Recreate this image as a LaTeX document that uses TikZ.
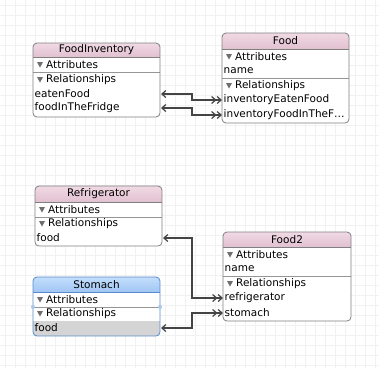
\documentclass[tikz,border=0pt]{standalone}
\usepackage{fontspec}
\setmainfont{DejaVu Sans}
\usetikzlibrary{arrows.meta}
\definecolor{hdrpinkT}{RGB}{240,218,228}
\definecolor{hdrpinkB}{RGB}{226,192,207}
\definecolor{hdrblueT}{RGB}{196,222,252}
\definecolor{hdrblueB}{RGB}{160,198,244}
\definecolor{bordergray}{RGB}{128,128,128}
\definecolor{bordblue}{RGB}{88,138,204}
\definecolor{sepgray}{RGB}{150,150,150}
\definecolor{selgray}{RGB}{212,212,212}
\definecolor{gridc}{RGB}{241,241,241}
\definecolor{linkc}{RGB}{68,68,68}
\definecolor{trigray}{RGB}{110,110,110}
\definecolor{handleblue}{RGB}{170,200,235}
\tikzset{
  txt/.style={font=\fontsize{10.5}{12}\selectfont, inner sep=0pt, anchor=west},
  hdr/.style={font=\fontsize{10.5}{12}\selectfont, inner sep=0pt},
  tri/.style={fill=trigray},
  sep/.style={draw=sepgray, line width=0.6pt},
  link/.style={draw=linkc, line width=1.3pt,
    {Straight Barb[length=4pt,width=7pt,line width=1.2pt]}-{Straight Barb[length=4pt,width=7pt,line width=1.2pt] Straight Barb[length=4pt,width=7pt,line width=1.2pt]}},
}
\newcommand\entframe[7]{% l r t hb b topcol botcol
  \begin{scope}
    \clip[rounded corners=4pt] (#1,#3) rectangle (#2,#5);
    \fill[white] (#1,#3) rectangle (#2,#5);
    \shade[top color=#6, bottom color=#7] (#1,#3) rectangle (#2,#4);
  \end{scope}
}
\newcommand\entborder[6]{% l r t hb b border
  \draw[#6, line width=0.7pt] (#1,#4) -- (#2,#4);
  \draw[#6, line width=0.8pt, rounded corners=4pt] (#1,#3) rectangle (#2,#5);
}
\newcommand\tria[2]{% x y
  \fill[tri] (#1+3,#2-3) -- (#1+9,#2-3) -- (#1+6,#2+2.5) -- cycle;
}
\begin{document}
\begin{tikzpicture}[x=1pt,y=-1pt]
\useasboundingbox (0,0) rectangle (379,368);
\fill[white] (0,0) rectangle (379,368);
\foreach \i in {0,10,...,370} {\draw[gridc, line width=0.5pt] (\i+5,0) -- (\i+5,368);}
\foreach \j in {0,10,...,360} {\draw[gridc, line width=0.5pt] (0,\j+5) -- (379,\j+5);}

% ---------- FoodInventory ----------
\entframe{33}{160}{43}{57}{117}{hdrpinkT}{hdrpinkB}
\node[hdr] (fi) at (96.5,50) {FoodInventory};
\tria{34}{65}
\node[txt] (fi-attr) at (46,65) {Attributes};
\draw[sep] (33,72) -- (160,72);
\tria{34}{80}
\node[txt] (fi-rel) at (46,80) {Relationships};
\node[txt] (fi-eaten) at (34.5,94) {eatenFood};
\node[txt] (fi-fridge) at (34.5,108) {foodInTheFridge};
\entborder{33}{160}{43}{57}{117}{bordergray}
\coordinate (fi-eaten-e) at (161,94);
\coordinate (fi-fridge-e) at (161,108);

% ---------- Food ----------
\entframe{222}{349}{33}{49}{123}{hdrpinkT}{hdrpinkB}
\node[hdr] (food) at (285.5,41) {Food};
\tria{223}{57}
\node[txt] (food-attr) at (235,57) {Attributes};
\node[txt] (food-name) at (223.5,71) {name};
\draw[sep] (222,78) -- (349,78);
\tria{223}{86}
\node[txt] (food-rel) at (235,86) {Relationships};
\node[txt] (food-inv1) at (223.5,100) {inventoryEatenFood};
\node[txt] (food-inv2) at (223.5,115) {inventoryFoodInTheF\ldots};
\entborder{222}{349}{33}{49}{123}{bordergray}
\coordinate (food-inv1-w) at (222,100);
\coordinate (food-inv2-w) at (222,115);

% ---------- Refrigerator ----------
\entframe{35}{162}{186}{202}{246}{hdrpinkT}{hdrpinkB}
\node[hdr] (fr) at (98.5,194) {Refrigerator};
\tria{36}{210}
\node[txt] (fr-attr) at (48,210) {Attributes};
\draw[sep] (35,217) -- (162,217);
\tria{36}{224}
\node[txt] (fr-rel) at (48,224) {Relationships};
\node[txt] (fr-food) at (36.5,238) {food};
\entborder{35}{162}{186}{202}{246}{bordergray}
\coordinate (fr-food-e) at (163,238);

% ---------- Food2 ----------
\entframe{223}{351}{232}{247}{321}{hdrpinkT}{hdrpinkB}
\node[hdr] (food2) at (287,240) {Food2};
\tria{224}{255}
\node[txt] (f2-attr) at (236,255) {Attributes};
\node[txt] (f2-name) at (224.5,269) {name};
\draw[sep] (223,276) -- (351,276);
\tria{224}{284}
\node[txt] (f2-rel) at (236,284) {Relationships};
\node[txt] (f2-fridge) at (224.5,298) {refrigerator};
\node[txt] (f2-stomach) at (224.5,313) {stomach};
\entborder{223}{351}{232}{247}{321}{bordergray}
\coordinate (f2-fridge-w) at (223,298);
\coordinate (f2-stomach-w) at (223,313);

% ---------- Stomach ----------
\entframe{33}{160}{277}{292}{336}{hdrblueT}{hdrblueB}
\begin{scope}
  \clip[rounded corners=4pt] (33,277) rectangle (160,336);
  \fill[selgray] (33,321) rectangle (160,336);
\end{scope}
\node[hdr] (st) at (96.5,284.5) {Stomach};
\tria{34}{300}
\node[txt] (st-attr) at (46,300) {Attributes};
\draw[sep] (33,307) -- (160,307);
\tria{34}{314}
\node[txt] (st-rel) at (46,314) {Relationships};
\node[txt] (st-food) at (34.5,328) {food};
\entborder{33}{160}{277}{292}{336}{bordblue}
\fill[handleblue] (33,307) circle (2pt);
\fill[handleblue] (160,307) circle (2pt);
\coordinate (st-food-e) at (161,328);

% ---------- connectors ----------
\draw[link] (fi-eaten-e) -- (192,94) |- (food-inv1-w);
\draw[link] (fi-fridge-e) -- (192,108) |- (food-inv2-w);
\draw[link] (fr-food-e) -- (192,238) |- (f2-fridge-w);
\draw[link] (st-food-e) -- (192,328) |- (f2-stomach-w);
\end{tikzpicture}
\end{document}
